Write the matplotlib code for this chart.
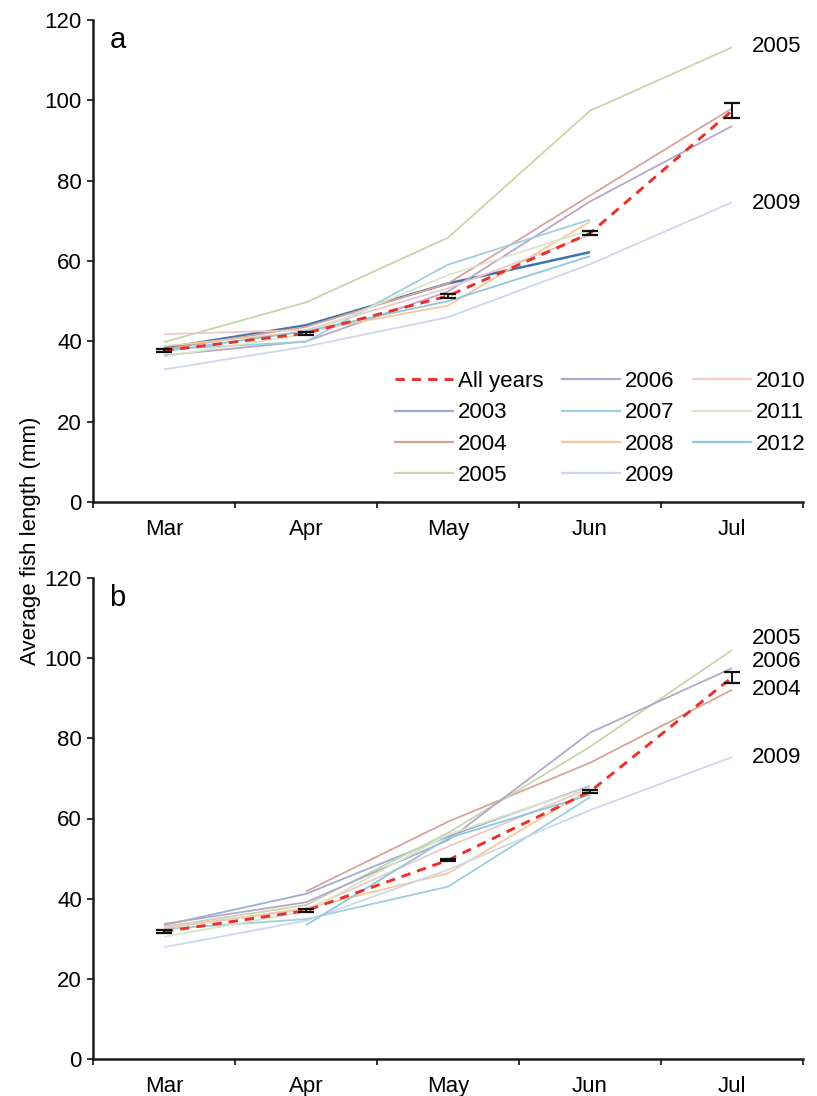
import numpy as np
import matplotlib
matplotlib.use("Agg")
import matplotlib.pyplot as plt
from matplotlib.lines import Line2D

plt.rcParams['font.family'] = ['Liberation Sans', 'DejaVu Sans']

months = ["Mar", "Apr", "May", "Jun", "Jul"]
years = ["2003", "2004", "2005", "2006", "2007", "2008", "2009", "2010", "2011", "2012"]
nan = np.nan

# Panel a
all_a = [37.7, 42.0, 51.3, 66.9, 97.4]
err_a = [0.4, 0.4, 0.4, 0.5, 1.9]
vals_a = {
    "2003": [38.3, 44.0, 54.4, 62.2, nan],
    "2004": [38.0, 43.6, 54.4, 76.3, 98.0],
    "2005": [39.8, 49.7, 65.8, 97.4, 113.2],
    "2006": [36.5, 40.0, 52.4, 74.8, 93.6],
    "2007": [38.0, 39.9, 59.1, 70.3, nan],
    "2008": [38.8, 42.4, 48.9, 69.8, nan],
    "2009": [33.0, 38.7, 46.0, 59.2, 74.6],
    "2010": [41.8, 42.8, 53.2, 66.5, nan],
    "2011": [36.2, 41.8, 56.5, 67.7, nan],
    "2012": [37.5, 42.5, 50.0, 61.2, nan],
}

# Panel b
all_b = [31.8, 37.0, 49.6, 66.7, 95.2]
err_b = [0.3, 0.3, 0.3, 0.4, 1.3]
vals_b = {
    "2003": [33.4, 41.2, 55.5, 68.1, nan],
    "2004": [nan, 41.8, 59.2, 73.9, 92.1],
    "2005": [33.0, 38.4, 56.4, 77.9, 102.0],
    "2006": [33.7, 39.1, 54.6, 81.4, 97.5],
    "2007": [32.4, 34.9, 43.0, 65.3, nan],
    "2008": [32.6, 37.6, 46.3, 67.3, nan],
    "2009": [27.9, 34.5, 47.2, 62.1, 75.3],
    "2010": [32.8, 37.3, 53.0, 67.5, nan],
    "2011": [30.5, 36.8, 56.0, 67.8, nan],
    "2012": [nan, 33.4, 55.1, 65.9, nan],
}

# right-hand year labels (text, y position)
labels_a = [("2005", 113.5), ("2009", 74.2)]
labels_b = [("2005", 105.0), ("2006", 99.1), ("2004", 92.1), ("2009", 75.1)]

colors = {
    "2003": "#9aaed3",
    "2004": "#d9a39a",
    "2005": "#c5d6a8",
    "2006": "#b6a6cc",
    "2007": "#9dcfdc",
    "2008": "#f5c99c",
    "2009": "#cdd8ec",
    "2010": "#efc8c8",
    "2011": "#d8e6c8",
    "2012": "#8ec8dc",
}
colors_a = dict(colors)
colors_a["2003"] = "#3f73b0"
red = "#e8312a"
FS = 16

fig = plt.figure(figsize=(8.17, 10.96), dpi=100)
ax_a = fig.add_axes([93/817, 1-502/1096, 710/817, 482/1096])
ax_b = fig.add_axes([93/817, 1-1059/1096, 710/817, 481/1096])

x = np.arange(len(months))


def draw(ax, vals, allv, errv, cols, letter, labels):
    for y in years:
        lw = 1.8 if (y == "2003" and cols is colors_a) else 1.3
        ax.plot(x, vals[y], color=cols[y], lw=lw, zorder=2, solid_capstyle='butt')
    ax.plot(x, allv, color=red, lw=2.1, ls=(0, (3.2, 2.4)), zorder=4)
    ax.errorbar(x, allv, yerr=errv, fmt='none', ecolor='#111111', elinewidth=1.4,
                capsize=5.5, capthick=1.6, zorder=5)
    ax.set_xlim(-0.5, 4.5)
    ax.set_ylim(0, 120)
    ax.set_yticks(np.arange(0, 121, 20))
    ax.set_xticks(x)
    ax.set_xticklabels(months)
    ax.set_xticks(np.arange(-0.5, 4.6, 1.0), minor=True)
    ax.tick_params(axis='x', which='major', length=0, pad=12, labelsize=FS)
    ax.tick_params(axis='x', which='minor', length=4, width=1.3, direction='out', color='#222222')
    ax.tick_params(axis='y', which='major', length=4, width=1.3, direction='out', pad=4,
                   labelsize=FS, color='#222222')
    for s in ['top', 'right']:
        ax.spines[s].set_visible(False)
    for s in ['left', 'bottom']:
        ax.spines[s].set_linewidth(1.8)
        ax.spines[s].set_color('#1a1a1a')
    ax.text(0.023, 0.958, letter, transform=ax.transAxes, fontsize=21, va='center', ha='left')
    for t, yv in labels:
        ax.text(4.14, yv, t, fontsize=FS, va='center', ha='left')


draw(ax_a, vals_a, all_a, err_a, colors_a, "a", labels_a)
draw(ax_b, vals_b, all_b, err_b, colors, "b", labels_b)

handles = [Line2D([], [], color=red, lw=2.1, ls=(0, (3.2, 2.4)))]
handles += [Line2D([], [], color=colors[y], lw=1.6) for y in years]
names = ["All years"] + years
ax_a.legend(handles, names, ncol=3, loc='upper left', bbox_to_anchor=(0.425, 0.272),
            frameon=False, fontsize=FS, handlelength=2.6, handletextpad=0.23,
            columnspacing=0.85, labelspacing=0.47, borderpad=0, borderaxespad=0)

fig.text(0.037, 0.507, "Average fish length (mm)", rotation=90, fontsize=FS,
         va='center', ha='center')

fig.savefig("out.png", dpi=100)
